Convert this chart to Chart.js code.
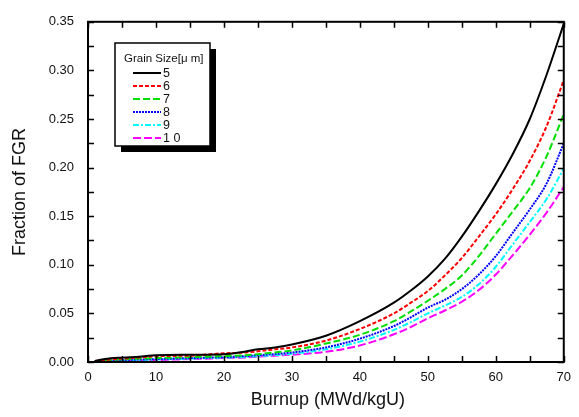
<!DOCTYPE html>
<html>
<head>
<meta charset="utf-8">
<script src="https://cdn.jsdelivr.net/npm/chart.js@4.4.1/dist/chart.umd.min.js"></script>
<style>
  html, body { margin: 0; padding: 0; background: #fff; }
  #wrap { width: 579px; height: 417px; }
</style>
</head>
<body>
<div id="wrap"><canvas id="fgr" width="579" height="417"></canvas></div>
<script>
// burnup points (MWd/kgU)
const burnup = [1, 2.5, 5, 7.5, 10, 15, 20, 22.5, 25, 27.5, 30, 35, 40, 45, 47.5, 50, 52.5, 55, 57.5, 60, 62.5, 65, 67.5, 70];

// fraction of fission gas release per grain size
const fgr5  = [0.001, 0.003, 0.0045, 0.0055, 0.007, 0.0075, 0.008, 0.010, 0.013, 0.015, 0.018, 0.027, 0.042, 0.061, 0.0735, 0.088, 0.106, 0.129, 0.155, 0.183, 0.214, 0.250, 0.296, 0.348];
const fgr6  = [0.001, 0.002, 0.0035, 0.0045, 0.006, 0.0065, 0.009, 0.0095, 0.011, 0.013, 0.015, 0.022, 0.034, 0.050, 0.061, 0.073, 0.089, 0.107, 0.129, 0.152, 0.178, 0.207, 0.243, 0.290];
const fgr7  = [0.0008, 0.0015, 0.0028, 0.0035, 0.004, 0.005, 0.006, 0.0068, 0.008, 0.0098, 0.012, 0.019, 0.028, 0.042, 0.052, 0.063, 0.075, 0.089, 0.109, 0.132, 0.155, 0.179, 0.212, 0.255];
const fgr8  = [0.0006, 0.0012, 0.002, 0.0025, 0.003, 0.004, 0.005, 0.0058, 0.007, 0.0082, 0.0098, 0.015, 0.024, 0.037, 0.046, 0.056, 0.064, 0.075, 0.090, 0.109, 0.133, 0.157, 0.184, 0.225];
const fgr9  = [0.0005, 0.001, 0.0015, 0.002, 0.0025, 0.0035, 0.0045, 0.005, 0.006, 0.0072, 0.0085, 0.013, 0.021, 0.033, 0.041, 0.050, 0.058, 0.067, 0.080, 0.098, 0.121, 0.144, 0.168, 0.199];
const fgr10 = [0.0004, 0.0008, 0.001, 0.0015, 0.002, 0.003, 0.004, 0.0045, 0.0055, 0.0065, 0.0075, 0.0105, 0.017, 0.0285, 0.036, 0.045, 0.053, 0.062, 0.074, 0.090, 0.110, 0.131, 0.154, 0.180];

const grainSizes = ["5", "6", "7", "8", "9", "1 0"];
const legendTitle = "Grain Size[\u03bc m]";
const xTitle = "Burnup (MWd/kgU)";
const yTitle = "Fraction of FGR";

const xTicks = [0, 10, 20, 30, 40, 50, 60, 70];
const yTicks = [0, 0.05, 0.10, 0.15, 0.20, 0.25, 0.30, 0.35];

const seriesValues = [fgr5, fgr6, fgr7, fgr8, fgr9, fgr10];
const seriesColors = ["#000000", "#ff0000", "#00e000", "#0000ff", "#00ffff", "#ff00ff"];
const seriesDashes = [[], [4, 2], [7, 3], [2, 1], [6, 2, 2, 2], [8, 3]];

const FONT = "'Liberation Sans', Arial, sans-serif";

// box + inward ticks (major & minor) on all four sides, plus axis titles and legend
const framePlugin = {
  id: "frame",
  afterDatasetsDraw(chart) {
    const { ctx, chartArea: a, scales } = chart;
    const xs = scales.x, ys = scales.y;
    ctx.save();
    ctx.strokeStyle = "#000";
    ctx.lineWidth = 2;
    ctx.strokeRect(a.left, a.top, a.right - a.left, a.bottom - a.top);

    ctx.lineWidth = 1.5;
    ctx.beginPath();
    for (let v = 0; v <= 70.001; v += 5) {
      const px = Math.round(xs.getPixelForValue(v)) + 0.5;
      ctx.moveTo(px, a.bottom); ctx.lineTo(px, a.bottom - 6);
      ctx.moveTo(px, a.top); ctx.lineTo(px, a.top + 6);
    }
    for (let v = 0; v <= 0.35001; v += 0.025) {
      const py = Math.round(ys.getPixelForValue(v)) + 0.5;
      ctx.moveTo(a.left, py); ctx.lineTo(a.left + 6, py);
      ctx.moveTo(a.right, py); ctx.lineTo(a.right - 6, py);
    }
    ctx.stroke();

    // axis titles
    ctx.fillStyle = "#111";
    ctx.font = "18px " + FONT;
    ctx.textAlign = "center";
    ctx.textBaseline = "middle";
    ctx.fillText(xTitle, (a.left + a.right) / 2 + 2, 400);
    ctx.save();
    ctx.translate(20, (a.top + a.bottom) / 2);
    ctx.rotate(-Math.PI / 2);
    ctx.fillText(yTitle, 0, 0);
    ctx.restore();

    // legend with drop shadow
    const L = { x: 115, y: 43, w: 95, h: 103 };
    ctx.fillStyle = "#000";
    ctx.fillRect(L.x + 6, L.y + 6, L.w, L.h);
    ctx.fillStyle = "#fff";
    ctx.fillRect(L.x, L.y, L.w, L.h);
    ctx.lineWidth = 1.5;
    ctx.strokeStyle = "#000";
    ctx.strokeRect(L.x, L.y, L.w, L.h);

    ctx.fillStyle = "#111";
    ctx.font = "11.5px " + FONT;
    ctx.textAlign = "left";
    ctx.fillText(legendTitle, L.x + 9, L.y + 16);

    ctx.font = "12.5px " + FONT;
    chart.data.datasets.forEach((ds, i) => {
      const y = L.y + 30 + i * 13;
      ctx.strokeStyle = ds.borderColor;
      ctx.lineWidth = 2;
      ctx.setLineDash(ds.borderDash);
      ctx.beginPath();
      ctx.moveTo(L.x + 18, y);
      ctx.lineTo(L.x + 46, y);
      ctx.stroke();
      ctx.setLineDash([]);
      ctx.fillStyle = "#111";
      ctx.fillText(grainSizes[i], L.x + 48, y + 1);
    });
    ctx.restore();
  },
};

new Chart(document.getElementById("fgr"), {
  type: "line",
  data: {
    datasets: seriesValues.map((vals, i) => ({
      label: grainSizes[i],
      data: burnup.map((b, j) => ({ x: b, y: vals[j] })),
      borderColor: seriesColors[i],
      borderDash: seriesDashes[i],
      borderWidth: 2,
      pointRadius: 0,
      fill: false,
      cubicInterpolationMode: "monotone",
    })),
  },
  options: {
    responsive: false,
    animation: false,
    layout: { padding: { top: 14, right: 6, left: 0, bottom: 0 } },
    plugins: { legend: { display: false }, tooltip: { enabled: false } },
    scales: {
      x: {
        type: "linear",
        min: 0,
        max: 70,
        afterFit: (s) => { s.height = 55; },
        afterBuildTicks: (s) => { s.ticks = xTicks.map((v) => ({ value: v })); },
        grid: { display: false, drawTicks: false },
        border: { display: false },
        ticks: { color: "#111", font: { family: FONT, size: 13 }, padding: 8, maxRotation: 0 },
      },
      y: {
        min: 0,
        max: 0.35,
        afterFit: (s) => { s.width = 88; },
        afterBuildTicks: (s) => { s.ticks = yTicks.map((v) => ({ value: v })); },
        grid: { display: false, drawTicks: false },
        border: { display: false },
        ticks: { color: "#111", font: { family: FONT, size: 13 }, padding: 14, callback: (v) => v.toFixed(2) },
      },
    },
  },
  plugins: [framePlugin],
});
</script>
</body>
</html>
